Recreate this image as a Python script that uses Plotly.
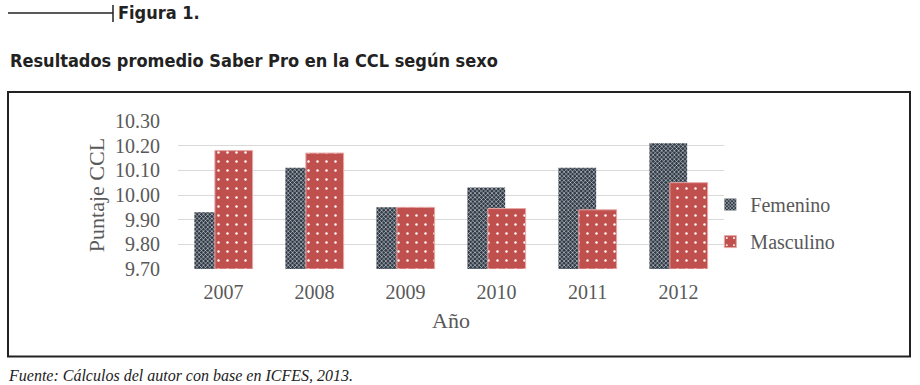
import plotly.graph_objects as go

years = ["2007", "2008", "2009", "2010", "2011", "2012"]
femenino = [9.93, 10.11, 9.95, 10.03, 10.11, 10.21]
masculino = [10.18, 10.17, 9.95, 9.945, 9.94, 10.05]
y_ticks = [9.70, 9.80, 9.90, 10.00, 10.10, 10.20, 10.30]

serif = "Liberation Serif, Times New Roman, serif"
sans_c = "DejaVu Sans Condensed, Liberation Sans Narrow, Arial Narrow, sans-serif"
gray = "#595959"

fig = go.Figure()
fig.add_trace(go.Bar(
    x=years, y=[v - 9.70 for v in femenino], base=9.70, name="Femenino",
    legendgroup="f", width=0.415, offset=-0.32,
    marker=dict(color="#2e3946",
                pattern=dict(shape="x", size=3, solidity=0.3, fgcolor="#ffffff", bgcolor="#2e3946", fillmode="replace"),
                line=dict(width=0)),
))
fig.add_trace(go.Bar(
    x=years, y=[v - 9.70 for v in masculino], base=9.70, name="Masculino",
    legendgroup="m", width=0.415, offset=-0.095,
    marker=dict(color="#c0504d",
                pattern=dict(shape=".", size=9, solidity=0.06, fgcolor="#ffffff", bgcolor="#c0504d", fillmode="replace"),
                line=dict(width=1, color="#e6a8a6")),
))

fig.update_layout(
    width=920, height=385,
    margin=dict(l=178, r=196, t=121, b=116, autoexpand=False),
    paper_bgcolor="white", plot_bgcolor="white",
    barmode="overlay",
    showlegend=True,
    legend=dict(x=0.975, y=0.31, xanchor="left", yanchor="middle",
                font=dict(family=serif, size=20, color=gray),
                traceorder="grouped", itemwidth=30, tracegroupgap=8,
                bgcolor="rgba(0,0,0,0)"),
    font=dict(family=serif, color=gray),
)
fig.update_xaxes(
    type="category", range=[-0.5, 5.5], automargin=False,
    showgrid=False, showline=False, zeroline=False,
    tickfont=dict(family=serif, size=20, color=gray),
    title=dict(text="Año", font=dict(family=serif, size=22, color=gray), standoff=10),
    ticks="outside", ticklen=5, tickcolor="rgba(0,0,0,0)",
)
fig.update_yaxes(
    range=[9.70, 10.30], tickvals=y_ticks, automargin=False,
    ticktext=[f"{v:.2f}" for v in y_ticks],
    showgrid=True, gridcolor="#d9d9d9", gridwidth=1,
    zeroline=False, showline=False,
    tickfont=dict(family=serif, size=20, color=gray),
    ticks="outside", ticklen=13, tickcolor="rgba(0,0,0,0)",
    title=dict(text="Puntaje CCL", font=dict(family=serif, size=22, color=gray), standoff=4),
)

# outer frame
fig.add_shape(type="rect", xref="paper", yref="paper",
              x0=-170/546, x1=732/546, y0=-87.5/148, y1=(148+29)/148,
              line=dict(color="#222222", width=2), fillcolor="rgba(0,0,0,0)", layer="below")
# header line and tick
fig.add_shape(type="line", xref="paper", yref="paper",
              x0=-170/546, x1=-65/546, y0=(148+108)/148, y1=(148+108)/148,
              line=dict(color="#222222", width=1.5))
fig.add_shape(type="line", xref="paper", yref="paper",
              x0=-65/546, x1=-65/546, y0=(148+99)/148, y1=(148+116)/148,
              line=dict(color="#222222", width=1.5))

fig.add_annotation(text="<b>Figura 1.</b>", xref="paper", yref="paper",
                   x=-62/546, y=(148+108)/148, xanchor="left", yanchor="middle",
                   showarrow=False, font=dict(family=sans_c, size=18, color="#222222"))
fig.add_annotation(text="<b>Resultados promedio Saber Pro en la CCL según sexo</b>", xref="paper", yref="paper",
                   x=-170/546, y=(148+61)/148, xanchor="left", yanchor="middle",
                   showarrow=False, font=dict(family=sans_c, size=18, color="#222222"))
fig.add_annotation(text="<i>Fuente: Cálculos del autor con base en ICFES, 2013.</i>", xref="paper", yref="paper",
                   x=-172/546, y=-106/148, xanchor="left", yanchor="middle",
                   showarrow=False, font=dict(family=serif, size=16, color="#222222"))

fig.write_html("out.html", config={"displayModeBar": False},
               post_script="document.body.style.margin='0';")
